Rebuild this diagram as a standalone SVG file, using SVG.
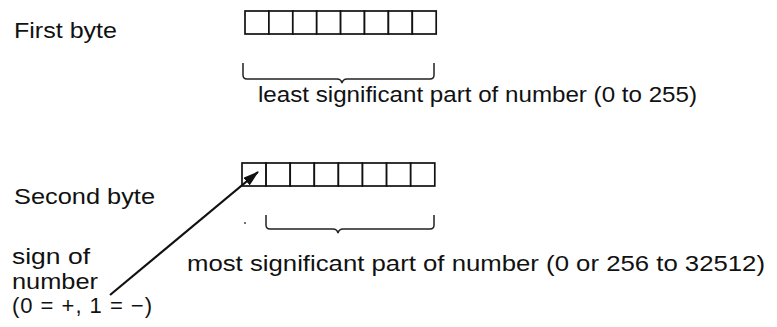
<svg xmlns="http://www.w3.org/2000/svg" width="777" height="327" viewBox="0 0 777 327">
<style>
text{font-family:"Liberation Sans",Arial,sans-serif;font-size:22px;fill:#111}
.cell{fill:#fff;stroke:#111;stroke-width:1.7}
.brace{fill:none;stroke:#222;stroke-width:1.5}
.arrow{stroke:#111;stroke-width:2.2;fill:none}
</style>
<defs>
<marker id="ah" viewBox="0 0 16 10" refX="15" refY="5" markerWidth="16" markerHeight="10" orient="auto" markerUnits="userSpaceOnUse">
<path d="M0,0 L16,5 L0,10 z" fill="#111"/>
</marker>
</defs>
<rect width="777" height="327" fill="#fff"/>
<g id="first-byte">
<text x="14" y="38" textLength="103" lengthAdjust="spacingAndGlyphs">First byte</text>
<g id="first-byte-cells">
<rect class="cell" x="245" y="11" width="23.9" height="23"/>
<rect class="cell" x="268.9" y="11" width="23.9" height="23"/>
<rect class="cell" x="292.8" y="11" width="23.9" height="23"/>
<rect class="cell" x="316.7" y="11" width="23.9" height="23"/>
<rect class="cell" x="340.6" y="11" width="23.9" height="23"/>
<rect class="cell" x="364.5" y="11" width="23.9" height="23"/>
<rect class="cell" x="388.4" y="11" width="23.9" height="23"/>
<rect class="cell" x="412.3" y="11" width="23.9" height="23"/>
</g>
<path class="brace" d="M243,63 L243,75 Q243,79 247,79 L337,79 Q341,79 342,83 Q343,79 347,79 L430,79 Q434,79 434,75 L434,63"/>
<text x="258" y="102" textLength="439" lengthAdjust="spacingAndGlyphs">least significant part of number (0 to 255)</text>
</g>
<g id="second-byte">
<text x="14" y="204" textLength="141" lengthAdjust="spacingAndGlyphs">Second byte</text>
<g id="second-byte-cells">
<rect class="cell" x="242" y="163" width="24.1" height="23"/>
<rect class="cell" x="266.1" y="163" width="24.1" height="23"/>
<rect class="cell" x="290.2" y="163" width="24.1" height="23"/>
<rect class="cell" x="314.3" y="163" width="24.1" height="23"/>
<rect class="cell" x="338.4" y="163" width="24.1" height="23"/>
<rect class="cell" x="362.5" y="163" width="24.1" height="23"/>
<rect class="cell" x="386.6" y="163" width="24.1" height="23"/>
<rect class="cell" x="410.7" y="163" width="24.1" height="23"/>
</g>
<path class="brace" d="M266,215 L266,225 Q266,229 270,229 L333,229 Q337,229 338,233 Q339,229 343,229 L430,229 Q434,229 434,225 L434,215"/>
<circle cx="245" cy="223" r="1" fill="#444"/>
<text x="187" y="271" textLength="578" lengthAdjust="spacingAndGlyphs">most significant part of number (0 or 256 to 32512)</text>
</g>
<g id="sign-label">
<text x="12" y="264" textLength="78" lengthAdjust="spacingAndGlyphs">sign of</text>
<text x="12" y="289" textLength="86" lengthAdjust="spacingAndGlyphs">number</text>
<text x="12" y="313" textLength="140" lengthAdjust="spacing">(0 = +, 1 = −)</text>
</g>
<g id="connectors">
<line class="arrow" x1="110" y1="295" x2="258" y2="172" marker-end="url(#ah)"/>
</g>
</svg>
